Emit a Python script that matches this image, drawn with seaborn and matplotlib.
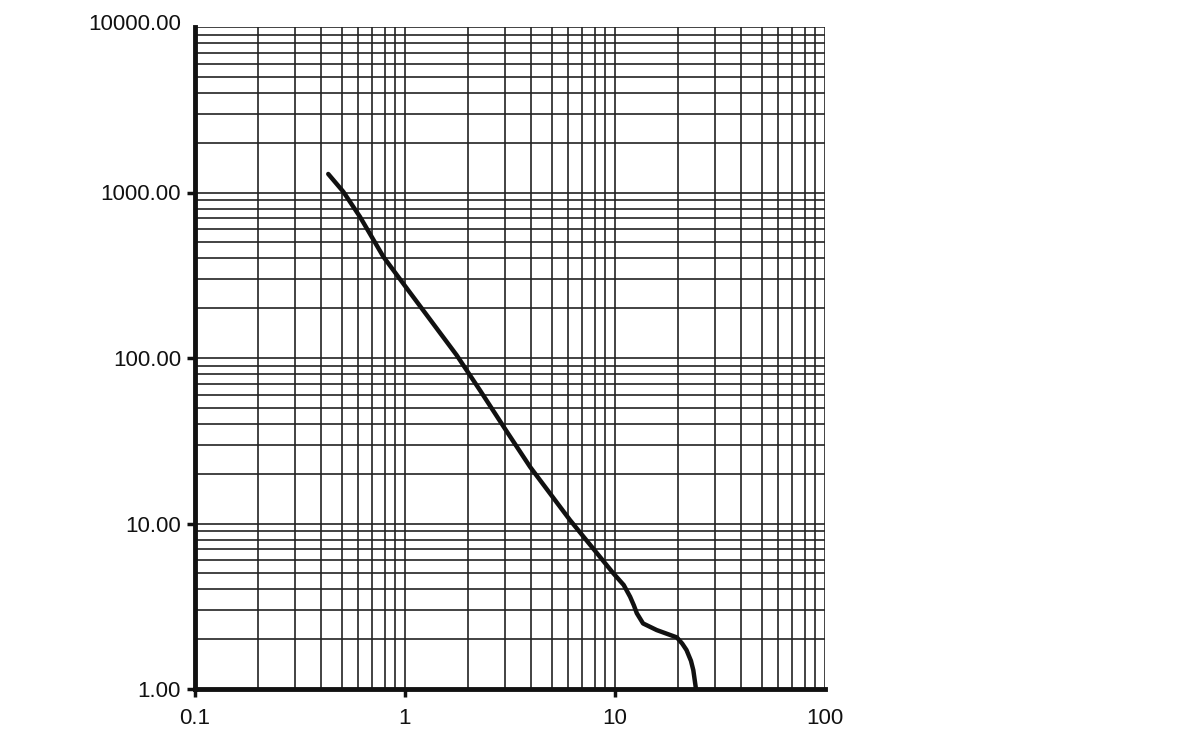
import numpy as np
import pandas as pd
import matplotlib
matplotlib.use("Agg")
import matplotlib.pyplot as plt
import matplotlib.transforms as mtransforms
import seaborn as sns
from matplotlib.ticker import FixedLocator, LogLocator, NullFormatter, FixedFormatter

x_vals = [0.431, 0.508, 0.610, 0.789, 1.019, 1.762, 1.97, 2.27, 3.05, 3.94, 6.10, 9.12, 9.82,
          11.0, 11.8, 12.3, 12.7, 13.6, 15.8, 19.7, 20.9, 21.9, 23.0, 23.6, 24.3]
y_vals = [1294, 1012, 714, 409, 264, 104, 84, 64.1, 36.0, 22.0, 10.5, 5.61, 5.0,
          4.25, 3.61, 3.2, 2.87, 2.49, 2.27, 2.05, 1.88, 1.72, 1.48, 1.30, 1.0]

x_ticks = [0.1, 1, 10, 100]
x_tick_labels = ["0.1", "1", "10", "100"]
y_ticks = [1, 10, 100, 1000, 10000]
y_tick_labels = ["1.00", "10.00", "100.00", "1000.00", "10000.00"]

sns.set_style("white")
plt.rcParams['font.family'] = ['Liberation Sans', 'DejaVu Sans']

df = pd.DataFrame({"x": x_vals, "y": y_vals})

fig = plt.figure(figsize=(11.99, 7.44), dpi=100)
ax = fig.add_axes([195/1199, (744-689)/744, 630/1199, (689-27)/744])
ax.set_xscale("log")
ax.set_yscale("log")
sns.lineplot(data=df, x="x", y="y", ax=ax, color="#111111", linewidth=3.2, sort=False)
for ln in ax.get_lines():
    ln.set_solid_joinstyle("round")
    ln.set_solid_capstyle("round")
ax.set_xlim(0.1, 100)
ax.set_ylim(1, 10000)

ax.xaxis.set_major_locator(FixedLocator(x_ticks))
ax.xaxis.set_major_formatter(FixedFormatter(x_tick_labels))
ax.yaxis.set_major_locator(FixedLocator(y_ticks))
ax.yaxis.set_major_formatter(FixedFormatter(y_tick_labels))
ax.xaxis.set_minor_locator(LogLocator(base=10, subs=np.arange(2, 10), numticks=20))
ax.yaxis.set_minor_locator(LogLocator(base=10, subs=np.arange(2, 10), numticks=20))
ax.xaxis.set_minor_formatter(NullFormatter())
ax.yaxis.set_minor_formatter(NullFormatter())

ax.grid(True, which="both", color="#222222", linewidth=1.2)
ax.set_axisbelow(True)
for s in ["top", "right"]:
    ax.spines[s].set_visible(False)
for s in ["left", "bottom"]:
    ax.spines[s].set_linewidth(3.5)
    ax.spines[s].set_color("#111111")
    ax.spines[s].set_zorder(5)

ax.tick_params(which="major", direction="out", length=6, width=2.5, color="#111111",
               labelsize=16, labelcolor="#111111", bottom=True, left=True, pad=4)
ax.tick_params(which="minor", length=0)
ax.tick_params(axis="x", pad=8)
ax.set_xlabel("")
ax.set_ylabel("")

fig.canvas.draw()
# no tick mark at the top (10000) and right (100) ends
ax.xaxis.get_major_ticks()[-1].tick1line.set_visible(False)
top_tick = ax.yaxis.get_major_ticks()[-1]
top_tick.tick1line.set_visible(False)
top_tick.label1.set_transform(top_tick.label1.get_transform() +
                              mtransforms.ScaledTranslation(0, 5/100, fig.dpi_scale_trans))

fig.savefig("out.png", dpi=100, facecolor="white")
